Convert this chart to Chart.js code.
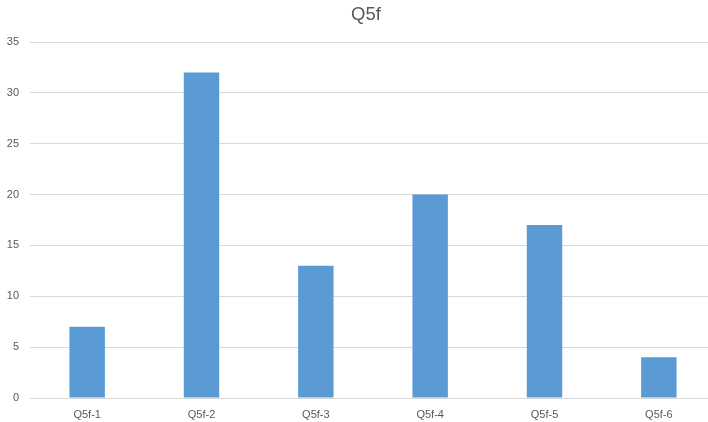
<!DOCTYPE html>
<html>
<head>
<meta charset="utf-8">
<script src="https://cdn.jsdelivr.net/npm/chart.js@4/dist/chart.umd.min.js"></script>
<style>
  html, body { margin: 0; padding: 0; background: #fff; overflow: hidden; }
  #wrap { position: relative; width: 732px; height: 422px; }
</style>
</head>
<body>
<div id="wrap"><canvas id="myChart"></canvas></div>
<script>
const CATEGORIES = ["Q5f-1", "Q5f-2", "Q5f-3", "Q5f-4", "Q5f-5", "Q5f-6"];
const VALUES = [7, 32, 13, 20, 17, 4];
const Y_MAX = 35;
const Y_STEP = 5;

const TEXT = '#595959';
const GRID = '#d9d9d9';
const BAR = '#5b9bd5';

Chart.defaults.font.family = '"Liberation Sans", Arial, sans-serif';
Chart.defaults.font.size = 11;
Chart.defaults.color = TEXT;

const ctx = document.querySelector('#myChart');

var chart = new Chart(ctx, {
    type: 'bar',
    data: {
        labels: CATEGORIES,
        datasets: [{
            data: VALUES,
            backgroundColor: BAR,
            borderWidth: 0,
            categoryPercentage: 1,
            barPercentage: 0.31
        }]
    },
    options: {
        responsive: true,
        maintainAspectRatio: false,
        animation: false,
        layout: { padding: 0 },
        plugins: {
            legend: { display: false },
            tooltip: { enabled: false },
            title: {
                display: true,
                text: 'Q5f',
                color: TEXT,
                font: { size: 18.5, weight: 'normal' },
                padding: { top: 4, bottom: 15.8 }
            }
        },
        scales: {
            x: {
                grid: { display: false, drawTicks: false },
                border: { display: false },
                ticks: { padding: 10, color: TEXT, maxRotation: 0 },
                afterFit: function (scale) {
                    scale.height = 24;
                    // plot stops a bit past the window's right edge, title stays centred on the wider canvas
                    scale.paddingRight = 16;
                }
            },
            y: {
                min: 0,
                max: Y_MAX,
                ticks: { stepSize: Y_STEP, padding: 11, color: TEXT },
                grid: { color: GRID, drawTicks: false, lineWidth: 1 },
                border: { display: false },
                afterFit: function (scale) { scale.width = 30; }
            }
        }
    }
});
</script>
</body>
</html>
